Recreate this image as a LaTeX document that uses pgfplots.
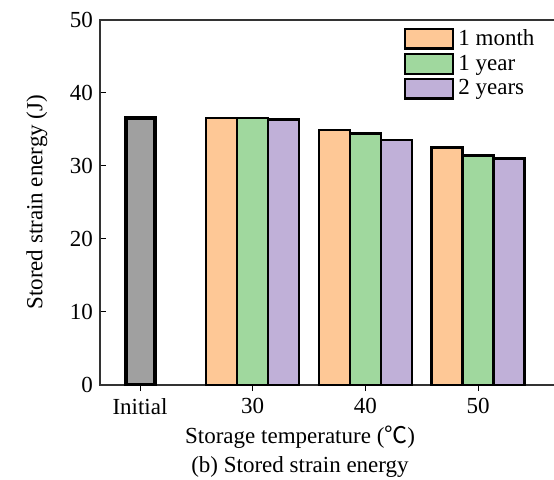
\documentclass[border=0pt]{standalone}
\usepackage{pgfplots}
\pgfplotsset{compat=1.18}
\usepackage{fontspec}
\setmainfont{Liberation Serif}
\newfontfamily\cjk{Noto Sans CJK SC}
\definecolor{cgray}{RGB}{160,160,160}
\definecolor{corange}{RGB}{254,200,150}
\definecolor{cgreen}{RGB}{160,216,158}
\definecolor{cpurple}{RGB}{192,176,216}
\pgfplotsset{
  patchleg/.style={legend image code/.code={\draw[##1,bar shift=0pt] (0pt,-4.9pt) rectangle (24pt,4.9pt);}}
}
\begin{document}
\begin{tikzpicture}
\begin{axis}[
  at={(0,0)}, anchor=south west,
  scale only axis, width=230pt, height=182.75pt,
  xmin=-0.355, xmax=3.727, ymin=0, ymax=50,
  ytick={0,10,...,50},
  xtick={0,1,2,3}, xticklabels={Initial,30,40,50},
  xtick pos=bottom, ytick pos=left,
  tick align=inside, major tick length=3pt,
  tick style={black, line width=0.5pt},
  axis line style={black!80, line width=1pt},
  font=\fontsize{11.5}{13}\selectfont,
  /pgf/number format/assume math mode=true,
  ybar, bar width=15.5pt,
  xlabel={Storage temperature ({\cjk ℃})},
  xlabel style={at={(axis description cs:0.435,-0.142)}, anchor=center},
  ylabel={Stored strain energy (J)},
  ylabel style={at={(axis description cs:-0.137,0.5)}, anchor=center},
  legend style={at={(axis description cs:0.66,0.985)}, anchor=north west,
    draw=none, fill=none, inner sep=0pt, row sep=-0.7pt,
    cells={anchor=west}, font=\fontsize{11.5}{13}\selectfont},
]
\addplot[fill=cgray, draw=black, line width=2pt, bar width=14.5pt, bar shift=0pt, forget plot]
  coordinates {(0,36.5)};
\addplot[fill=corange, draw=black, line width=1.2pt, bar shift=-15.5pt, patchleg]
  coordinates {(1,36.5) (2,34.9) (3,32.5)};
\addplot[fill=cgreen, draw=black, line width=1.2pt, bar shift=0pt, patchleg]
  coordinates {(1,36.5) (2,34.4) (3,31.4)};
\addplot[fill=cpurple, draw=black, line width=1.2pt, bar shift=15.5pt, patchleg]
  coordinates {(1,36.3) (2,33.5) (3,31.0)};
\legend{1 month, 1 year, 2 years}
\end{axis}
\node[font=\fontsize{11.5}{13}\selectfont] at (100pt,-41pt) {(b) Stored strain energy};
\pgfresetboundingbox
\useasboundingbox (-50pt,-47pt) rectangle (227pt,192.5pt);
\end{tikzpicture}
\end{document}
